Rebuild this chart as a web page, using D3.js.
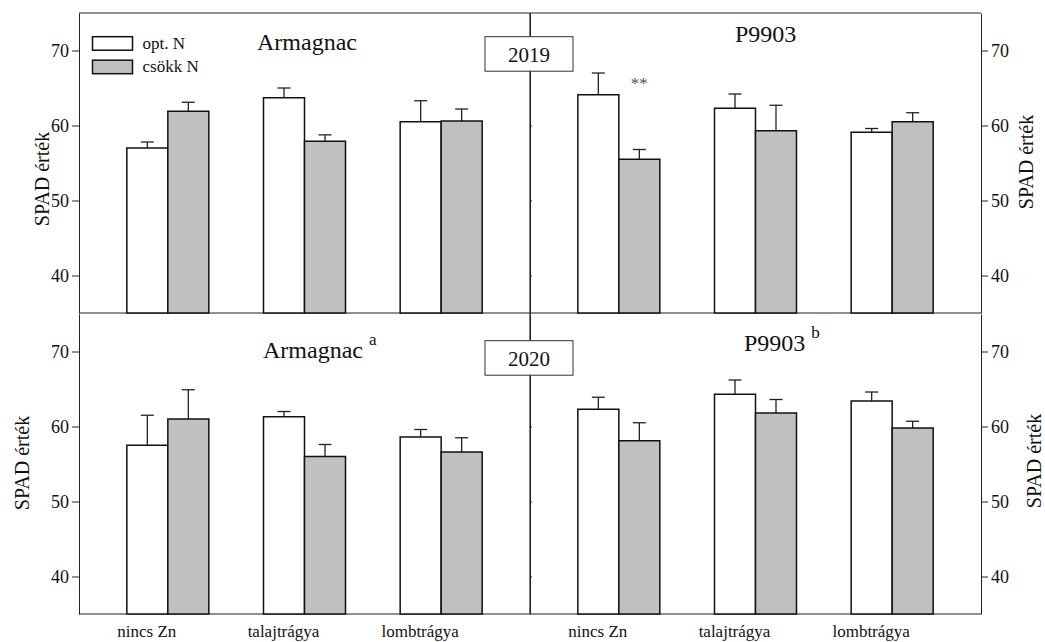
<!DOCTYPE html>
<html>
<head>
<meta charset="utf-8">
<script src="https://cdn.jsdelivr.net/npm/d3@7"></script>
<style>
  body { margin: 0; background: #fff; }
  svg text { font-family: 'Liberation Serif', 'DejaVu Serif', 'Noto Serif', serif !important; fill: #111; }
</style>
</head>
<body>
<div id="chart"></div>
<script>
var categories = ["nincs Zn", "talajtrágya", "lombtrágya"];
var series = ["opt. N", "csökk N"];
var years = ["2019", "2020"];
var cultivars = ["Armagnac", "P9903"];
var yTicks = [40, 50, 60, 70];

// 2019
var arm2019Opt = [57.0, 63.7, 60.5], arm2019OptErr = [0.8, 1.3, 2.8];
var arm2019Csokk = [61.9, 57.9, 60.6], arm2019CsokkErr = [1.2, 0.85, 1.6];
var p2019Opt = [64.1, 62.3, 59.1], p2019OptErr = [2.9, 1.9, 0.5];
var p2019Csokk = [55.5, 59.3, 60.5], p2019CsokkErr = [1.3, 3.4, 1.2];
// 2020
var arm2020Opt = [57.5, 61.3, 58.6], arm2020OptErr = [4.0, 0.7, 1.0];
var arm2020Csokk = [61.0, 56.0, 56.6], arm2020CsokkErr = [3.9, 1.6, 1.9];
var p2020Opt = [62.3, 64.3, 63.4], p2020OptErr = [1.6, 1.9, 1.2];
var p2020Csokk = [58.1, 61.8, 59.8], p2020CsokkErr = [2.4, 1.8, 0.9];

var titleSups = [["", ""], ["a", "b"]];
// significance marks
var sigMarks = [{row: 0, col: 1, cat: "nincs Zn", s: "csökk N", text: "**"}];

var panels = [
  [ {opt: arm2019Opt, optErr: arm2019OptErr, csokk: arm2019Csokk, csokkErr: arm2019CsokkErr},
    {opt: p2019Opt, optErr: p2019OptErr, csokk: p2019Csokk, csokkErr: p2019CsokkErr} ],
  [ {opt: arm2020Opt, optErr: arm2020OptErr, csokk: arm2020Csokk, csokkErr: arm2020CsokkErr},
    {opt: p2020Opt, optErr: p2020OptErr, csokk: p2020Csokk, csokkErr: p2020CsokkErr} ]
];

var width = 1045, height = 642;
var left = 79, panelW = 451;
var rowTop = [13, 314], panelH = 300;
var barW = 41;
var fills = {"opt. N": "#ffffff", "csökk N": "#c0c0c0"};
var serif = "'Liberation Serif', 'DejaVu Serif', serif";

var svg = d3.select('#chart').append('svg')
  .attr('width', width).attr('height', height)
  .attr('font-family', serif);

var x = d3.scalePoint().domain(categories).range([0, panelW]).padding(0.65);
var xs = d3.scaleBand().domain(series).range([-barW, barW]);

// centre divider
svg.append('line').attr('x1', left + panelW).attr('x2', left + panelW)
  .attr('y1', rowTop[0]).attr('y2', rowTop[1] + panelH)
  .attr('stroke', '#222').attr('stroke-width', 1.2);

rowTop.forEach(function(top, r) {
  var y = d3.scaleLinear().domain([35, 75]).range([top + panelH, top]);

  // left and right axes
  var axL = svg.append('g').attr('transform', 'translate(' + left + ',0)')
    .call(d3.axisLeft(y).tickValues(yTicks).tickSize(7).tickPadding(3).tickSizeOuter(0));
  var axR = svg.append('g').attr('transform', 'translate(' + (left + 2 * panelW) + ',0)')
    .call(d3.axisRight(y).tickValues(yTicks).tickSize(7).tickPadding(3).tickSizeOuter(0));
  [axL, axR].forEach(function(ax) {
    ax.attr('font-family', serif).attr('font-size', 18);
    ax.selectAll('text').attr('fill', '#111');
    ax.selectAll('line, path').attr('stroke', '#222');
  });
  // small inner ticks on the centre divider
  svg.append('g').attr('transform', 'translate(' + (left + panelW) + ',0)')
    .call(d3.axisRight(y).tickValues(yTicks).tickSize(2).tickSizeOuter(0).tickFormat(''))
    .selectAll('line, path').attr('stroke', '#222');

  // horizontal frame lines
  svg.append('line').attr('x1', left).attr('x2', left + 2 * panelW)
    .attr('y1', y(35)).attr('y2', y(35)).attr('stroke', '#222').attr('stroke-width', 1.2);
  if (r === 0) {
    svg.append('line').attr('x1', left).attr('x2', left + 2 * panelW)
      .attr('y1', y(75)).attr('y2', y(75)).attr('stroke', '#222').attr('stroke-width', 1);
  }

  panels[r].forEach(function(p, c) {
    var g = svg.append('g').attr('transform', 'translate(' + (left + c * panelW) + ',0)');
    var rows = [];
    categories.forEach(function(cat, i) {
      rows.push({cat: cat, s: "opt. N", v: p.opt[i], e: p.optErr[i]});
      rows.push({cat: cat, s: "csökk N", v: p.csokk[i], e: p.csokkErr[i]});
    });

    // error bars (upper only)
    var eb = g.selectAll('.eb').data(rows).enter().append('g');
    eb.append('line')
      .attr('x1', function(d) { return x(d.cat) + xs(d.s) + barW / 2; })
      .attr('x2', function(d) { return x(d.cat) + xs(d.s) + barW / 2; })
      .attr('y1', function(d) { return y(d.v); })
      .attr('y2', function(d) { return y(d.v + d.e); })
      .attr('stroke', '#222').attr('stroke-width', 1.3);
    eb.append('line')
      .attr('x1', function(d) { return x(d.cat) + xs(d.s) + barW / 2 - 6.5; })
      .attr('x2', function(d) { return x(d.cat) + xs(d.s) + barW / 2 + 6.5; })
      .attr('y1', function(d) { return y(d.v + d.e); })
      .attr('y2', function(d) { return y(d.v + d.e); })
      .attr('stroke', '#222').attr('stroke-width', 1.3);

    g.selectAll('.bar').data(rows).enter().append('rect')
      .attr('x', function(d) { return x(d.cat) + xs(d.s); })
      .attr('y', function(d) { return y(d.v); })
      .attr('width', barW)
      .attr('height', function(d) { return y(35) - y(d.v); })
      .attr('fill', function(d) { return fills[d.s]; })
      .attr('stroke', '#111').attr('stroke-width', 1.5);

    // panel title
    var tx = c === 0 ? (r === 0 ? 178 : 184) : (r === 0 ? 205 : 214);
    var ty = r === 0 ? (c === 0 ? 50 : 42) : (c === 0 ? 358 : 351);
    var t = g.append('text').attr('x', tx).attr('y', ty).attr('font-size', 24)
      .text(cultivars[c]);
    if (titleSups[r][c]) {
      t.append('tspan').attr('dx', 6).attr('dy', -13).attr('font-size', 17).text(titleSups[r][c]);
    }

    // category labels under bottom row
    if (r === 1) {
      g.selectAll('.cat').data(categories).enter().append('text')
        .attr('x', function(d) { return x(d) - 21; })
        .attr('y', 637)
        .attr('text-anchor', 'middle')
        .attr('font-size', 17)
        .text(function(d) { return d; });
    }

    sigMarks.filter(function(m) { return m.row === r && m.col === c; }).forEach(function(m) {
      var i = categories.indexOf(m.cat);
      g.append('text')
        .attr('x', x(m.cat) + xs(m.s) + barW / 2)
        .attr('y', y(p.opt[i] + p.optErr[i]) + 16)
        .attr('text-anchor', 'middle')
        .attr('font-size', 17).style('fill', '#555')
        .text(m.text);
    });
  });

  // year box over the centre line
  var bx = left + panelW;
  var by = r === 0 ? 36.7 : 340.7;
  svg.append('rect').attr('x', bx - 45).attr('y', by).attr('width', 88).attr('height', 34.5)
    .attr('fill', '#fff').attr('stroke', '#333').attr('stroke-width', 1);
  svg.append('text').attr('x', bx - 1).attr('y', by + 25.5).attr('text-anchor', 'middle')
    .attr('font-size', 21).text(years[r]);

  // y axis titles
  var lx = r === 0 ? 42 : 22;
  var rx = r === 0 ? 1026 : 1034;
  var lcy = r === 0 ? 179 : 463;
  var rcy = r === 0 ? 162 : 461;
  svg.append('text').attr('transform', 'translate(' + (lx + 7) + ',' + lcy + ') rotate(-90)')
    .attr('text-anchor', 'middle').attr('font-size', 20).text('SPAD érték');
  svg.append('text').attr('transform', 'translate(' + (rx + 7) + ',' + rcy + ') rotate(-90)')
    .attr('text-anchor', 'middle').attr('font-size', 20).text('SPAD érték');
});

// legend
var leg = svg.append('g');
series.forEach(function(s, i) {
  leg.append('rect').attr('x', 92.5).attr('y', 36.7 + i * 23.5).attr('width', 40).attr('height', 13.5)
    .attr('fill', fills[s]).attr('stroke', '#111').attr('stroke-width', 1.5);
  leg.append('text').attr('x', 142.5).attr('y', 48.5 + i * 23).attr('font-size', 17).text(s);
});
</script>
</body>
</html>
